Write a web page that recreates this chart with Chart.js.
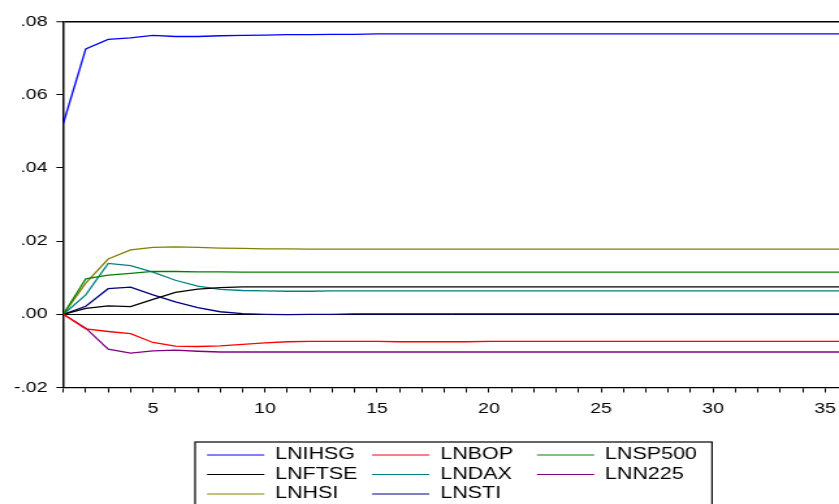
<!DOCTYPE html>
<html>
<head>
<meta charset="utf-8">
<title>Impulse responses</title>
<script src="https://cdn.jsdelivr.net/npm/chart.js@4.4.1/dist/chart.umd.min.js"></script>
<style>
  html, body { margin: 0; padding: 0; background: #fff; }
  #irf { display: block; }
</style>
</head>
<body>
<!-- canvas is drawn narrower and stretched sideways, like the source picture -->
<canvas id="irf" width="645" height="504" style="width:839px;height:504px"></canvas>
<script>
// ── data: response periods and the eight response series ──
const periods = [
   1,  2,  3,  4,  5,  6,  7,  8,  9, 10, 11, 12,
  13, 14, 15, 16, 17, 18, 19, 20, 21, 22, 23, 24,
  25, 26, 27, 28, 29, 30, 31, 32, 33, 34, 35, 36,
];

const seriesNames = ['LNIHSG', 'LNBOP', 'LNSP500', 'LNFTSE', 'LNDAX', 'LNN225', 'LNHSI', 'LNSTI'];

const lnihsg = [
  0.0522, 0.0725, 0.0751, 0.0755, 0.0762, 0.0759, 0.0759, 0.0761, 0.0762, 0.0763, 0.0764, 0.0764,
  0.0765, 0.0765, 0.0766, 0.0766, 0.0766, 0.0766, 0.0766, 0.0766, 0.0766, 0.0766, 0.0766, 0.0766,
  0.0766, 0.0766, 0.0766, 0.0766, 0.0766, 0.0766, 0.0766, 0.0766, 0.0766, 0.0766, 0.0766, 0.0766,
];
const lnbop = [
  0.0000, -0.0040, -0.0047, -0.0053, -0.0077, -0.0087, -0.0088, -0.0086, -0.0082, -0.0078, -0.0075, -0.0074,
  -0.0074, -0.0074, -0.0074, -0.0075, -0.0075, -0.0075, -0.0075, -0.0074, -0.0074, -0.0074, -0.0074, -0.0074,
  -0.0074, -0.0074, -0.0074, -0.0074, -0.0074, -0.0074, -0.0074, -0.0074, -0.0074, -0.0074, -0.0074, -0.0074,
];
const lnsp500 = [
  0.0000, 0.0097, 0.0107, 0.0112, 0.0117, 0.0117, 0.0116, 0.0116, 0.0115, 0.0115, 0.0115, 0.0115,
  0.0115, 0.0115, 0.0115, 0.0115, 0.0115, 0.0115, 0.0115, 0.0115, 0.0115, 0.0115, 0.0115, 0.0115,
  0.0115, 0.0115, 0.0115, 0.0115, 0.0115, 0.0115, 0.0115, 0.0115, 0.0115, 0.0115, 0.0115, 0.0115,
];
const lnftse = [
  0.0000, 0.0016, 0.0023, 0.0021, 0.0041, 0.0060, 0.0069, 0.0073, 0.0075, 0.0075, 0.0075, 0.0075,
  0.0075, 0.0075, 0.0075, 0.0075, 0.0075, 0.0075, 0.0075, 0.0075, 0.0075, 0.0075, 0.0075, 0.0075,
  0.0075, 0.0075, 0.0075, 0.0075, 0.0075, 0.0075, 0.0075, 0.0075, 0.0075, 0.0075, 0.0075, 0.0075,
];
const lndax = [
  0.0000, 0.0053, 0.0139, 0.0133, 0.0115, 0.0093, 0.0077, 0.0068, 0.0065, 0.0064, 0.0063, 0.0063,
  0.0064, 0.0064, 0.0064, 0.0064, 0.0064, 0.0064, 0.0064, 0.0064, 0.0064, 0.0064, 0.0064, 0.0064,
  0.0064, 0.0064, 0.0064, 0.0064, 0.0064, 0.0064, 0.0064, 0.0064, 0.0064, 0.0064, 0.0064, 0.0064,
];
const lnn225 = [
  0.0000, -0.0038, -0.0095, -0.0106, -0.0100, -0.0098, -0.0101, -0.0103, -0.0103, -0.0103, -0.0103, -0.0103,
  -0.0103, -0.0103, -0.0103, -0.0103, -0.0103, -0.0103, -0.0103, -0.0103, -0.0103, -0.0103, -0.0103, -0.0103,
  -0.0103, -0.0103, -0.0103, -0.0103, -0.0103, -0.0103, -0.0103, -0.0103, -0.0103, -0.0103, -0.0103, -0.0103,
];
const lnhsi = [
  0.0000, 0.0085, 0.0151, 0.0176, 0.0183, 0.0184, 0.0183, 0.0181, 0.0180, 0.0179, 0.0179, 0.0178,
  0.0178, 0.0178, 0.0178, 0.0178, 0.0178, 0.0178, 0.0178, 0.0178, 0.0178, 0.0178, 0.0178, 0.0178,
  0.0178, 0.0178, 0.0178, 0.0178, 0.0178, 0.0178, 0.0178, 0.0178, 0.0178, 0.0178, 0.0178, 0.0178,
];
const lnsti = [
  0.0000, 0.0022, 0.0070, 0.0074, 0.0053, 0.0034, 0.0018, 0.0007, 0.0002, 0.0000, -0.0001, 0.0000,
  0.0000, 0.0001, 0.0001, 0.0001, 0.0001, 0.0001, 0.0001, 0.0001, 0.0001, 0.0001, 0.0001, 0.0001,
  0.0001, 0.0001, 0.0001, 0.0001, 0.0001, 0.0001, 0.0001, 0.0001, 0.0001, 0.0001, 0.0001, 0.0001,
];

const seriesValues = [lnihsg, lnbop, lnsp500, lnftse, lndax, lnn225, lnhsi, lnsti];

const yTickValues = [-0.02, 0.00, 0.02, 0.04, 0.06, 0.08];
const xLabelStep  = 5;   // only every 5th period carries a label

// ── styles ──
const COLORS = ['#0000ff', '#ff0000', '#008000', '#000000', '#008080', '#800080', '#808000', '#000080'];
const FONT   = '"Liberation Sans", Arial, Helvetica, sans-serif';
const PLOT_LEFT   = 48.7;   // canvas px (before the sideways stretch)
const PLOT_BOTTOM = 387.5;
const X_MAX       = 35.625; // right edge of the picture is cut inside period 36

Chart.defaults.font.family = FONT;
Chart.defaults.color = '#000';

const fmtY = v => (v < 0 ? '-' : '') + Math.abs(v).toFixed(2).replace(/^0/, '');
const isTop  = v => Math.abs(v - 0.08) < 1e-9;
const isZero = v => Math.abs(v) < 1e-9;

/* legend: boxed, three columns, drawn under the plot */
const boxLegend = {
  id: 'boxLegend',
  afterDraw(chart) {
    const ctx = chart.ctx;
    const lineX = [159.2, 286.0, 412.8];
    const textX = [211.5, 338.5, 465.1];
    const rowY  = [454.5, 474.0, 493.5];
    ctx.save();
    ctx.strokeStyle = '#000';
    ctx.lineWidth = 1.2;
    ctx.strokeRect(150, 442, 397.4, 80);
    ctx.font = '16.5px ' + FONT;
    ctx.textBaseline = 'middle';
    ctx.textAlign = 'left';
    chart.data.datasets.forEach((ds, i) => {
      const c = i % 3, r = Math.floor(i / 3);
      ctx.strokeStyle = ds.borderColor;
      ctx.lineWidth = 1;
      ctx.beginPath();
      ctx.moveTo(lineX[c], rowY[r] + 0.5);
      ctx.lineTo(lineX[c] + 44, rowY[r] + 0.5);
      ctx.stroke();
      ctx.fillStyle = '#000';
      ctx.fillText(ds.label, textX[c], rowY[r]);
    });
    ctx.restore();
  },
};

new Chart(document.getElementById('irf'), {
  type: 'line',
  data: {
    datasets: seriesNames.map((name, i) => ({
      label: name,
      data: periods.map((p, j) => ({ x: p, y: seriesValues[i][j] })),
      borderColor: COLORS[i],
      borderWidth: 1.3,
      pointRadius: 0,
      tension: 0,
      fill: false,
    })),
  },
  options: {
    responsive: false,
    devicePixelRatio: 1,
    animation: false,
    layout: { padding: { top: 21.5, left: 0, right: 0, bottom: 0 } },
    plugins: { legend: { display: false }, tooltip: { enabled: false } },
    scales: {
      x: {
        type: 'linear',
        min: 1,
        max: X_MAX,
        afterBuildTicks: s => { s.ticks = periods.filter(p => p <= X_MAX).map(p => ({ value: p })); },
        afterFit: s => { s.height = 504 - PLOT_BOTTOM; s.paddingLeft = 0; s.paddingRight = 0; },
        ticks: {
          autoSkip: false, maxRotation: 0, padding: 7,
          font: { size: 15 }, color: '#000',
          callback: v => (v % xLabelStep === 0 ? String(v) : ''),
        },
        grid: { drawOnChartArea: false, tickLength: 5, tickColor: '#000', tickWidth: 1 },
        border: { display: true, color: '#000', width: 1.3 },
      },
      y: {
        min: -0.02,
        max: 0.08,
        afterBuildTicks: s => { s.ticks = yTickValues.map(v => ({ value: v })); },
        afterFit: s => { s.width = PLOT_LEFT; s.paddingTop = 0; s.paddingBottom = 0; },
        ticks: { padding: 6.8, font: { size: 15 }, color: '#000', callback: v => fmtY(v) },
        grid: {
          color: c => (isZero(c.tick.value) || isTop(c.tick.value) ? '#000' : 'rgba(0,0,0,0)'),
          lineWidth: c => (isTop(c.tick.value) ? 1.5 : 1),
          tickLength: 5.4, tickColor: '#000', tickWidth: 1,
        },
        border: { display: true, color: '#000', width: 1.5 },
      },
    },
  },
  plugins: [boxLegend],
});
</script>
</body>
</html>
